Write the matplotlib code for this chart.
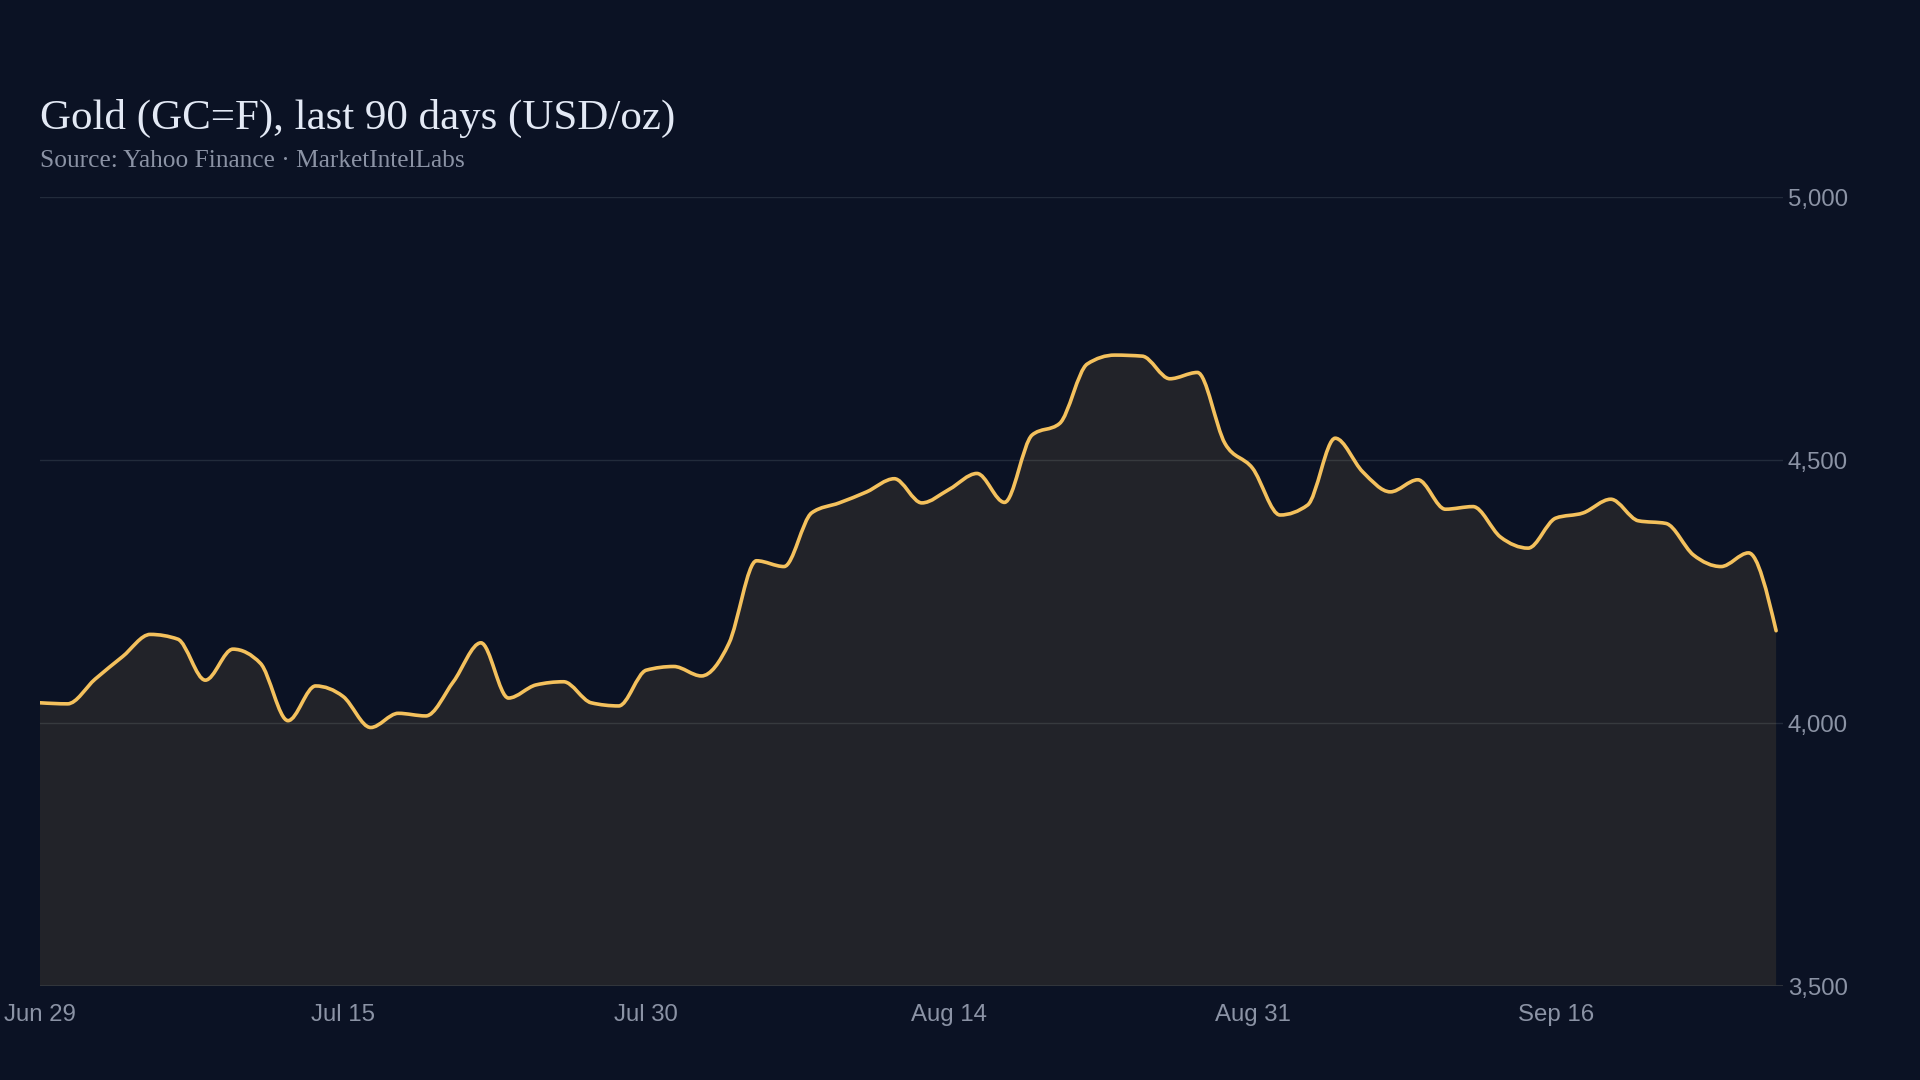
import matplotlib
matplotlib.use("Agg")
import matplotlib.pyplot as plt
import numpy as np
from matplotlib.path import Path
from matplotlib.patches import PathPatch

title    = "Gold (GC=F), last 90 days (USD/oz)"
subtitle = "Source: Yahoo Finance \u00b7 MarketIntelLabs"

# closing prices, one per trading session
prices = [4039, 4037, 4084, 4127, 4169, 4160, 4082, 4141, 4114, 4005,
          4071, 4051, 3992, 4019, 4014, 4079, 4153, 4048, 4073, 4079,
          4039, 4033, 4101, 4108, 4090, 4152, 4309, 4298, 4400, 4419,
          4440, 4465, 4419, 4445, 4475, 4420, 4548, 4570, 4683, 4700,
          4698, 4655, 4667, 4532, 4485, 4396, 4415, 4542, 4478, 4440,
          4463, 4407, 4412, 4354, 4333, 4390, 4400, 4426, 4385, 4380,
          4320, 4298, 4324, 4176]

tick_pos    = [0, 11, 22, 33, 44, 55]
tick_labels = ["Jun 29", "Jul 15", "Jul 30", "Aug 14", "Aug 31", "Sep 16"]
y_ticks     = [3500, 4000, 4500, 5000]

bg        = "#0b1224"
gold      = "#f4c15d"
grid_col  = "#222b3b"
label_col = "#8b93a5"


def monotone_path(x, y):
    # cubic bezier path, monotone in x (same idea as d3 curveMonotoneX)
    x = np.asarray(x, float)
    y = np.asarray(y, float)
    n = len(x)
    h = np.diff(x)
    s = np.diff(y) / h
    t = np.zeros(n)
    for i in range(1, n - 1):
        p = (s[i-1] * h[i] + s[i] * h[i-1]) / (h[i-1] + h[i])
        t[i] = (np.sign(s[i-1]) + np.sign(s[i])) * min(abs(s[i-1]), abs(s[i]), 0.5 * abs(p))
    t[0] = (3 * s[0] - t[1]) / 2
    t[-1] = (3 * s[-1] - t[-2]) / 2
    verts = [(x[0], y[0])]
    codes = [Path.MOVETO]
    for i in range(n - 1):
        dx = h[i] / 3
        verts += [(x[i] + dx, y[i] + dx * t[i]),
                  (x[i+1] - dx, y[i+1] - dx * t[i+1]),
                  (x[i+1], y[i+1])]
        codes += [Path.CURVE4] * 3
    return verts, codes


xs = np.arange(len(prices))
verts, codes = monotone_path(xs, prices)

fig = plt.figure(figsize=(19.2, 10.8), dpi=100, facecolor=bg)
ax = fig.add_axes([40/1920, 93.7/1080, 1743/1920, 789/1080])
ax.set_facecolor(bg)

base = y_ticks[0]
fill_verts = verts + [(xs[-1], base), (xs[0], base), (xs[0], base)]
fill_codes = codes + [Path.LINETO, Path.LINETO, Path.CLOSEPOLY]
ax.add_patch(PathPatch(Path(fill_verts, fill_codes), facecolor=gold, alpha=0.1,
                       edgecolor="none", zorder=2))
ax.add_patch(PathPatch(Path(verts, codes), facecolor="none", edgecolor=gold,
                       lw=2.6, capstyle="round", joinstyle="round", zorder=4))

for v in y_ticks:
    ax.axhline(v, color=grid_col, lw=1, zorder=1)
ax.axhline(base, color="#34383f", lw=1.2, zorder=3)

ax.set_xlim(0, 63.25)
ax.set_ylim(3500, 5000)
for sp in ax.spines.values():
    sp.set_visible(False)

ax.yaxis.tick_right()
ax.set_yticks(y_ticks)
ax.set_yticklabels(["{:,}".format(v) for v in y_ticks])
ax.set_xticks(tick_pos)
ax.set_xticklabels(tick_labels)
ax.tick_params(axis="y", length=0, pad=3.5, labelsize=17.3, labelcolor=label_col)
ax.tick_params(axis="x", length=0, pad=12.5, labelsize=17.3, labelcolor=label_col)
for lab in ax.get_xticklabels() + ax.get_yticklabels():
    lab.set_fontfamily("Liberation Sans")

fig.text(40/1920, 1 - 129/1080, title, fontsize=31, color="#e3e9f5",
         family="Liberation Serif", va="baseline", ha="left")
fig.text(40/1920, 1 - 167/1080, subtitle, fontsize=18.3, color=label_col,
         family="Liberation Serif", va="baseline", ha="left")

fig.savefig("out.png", dpi=100, facecolor=bg)
